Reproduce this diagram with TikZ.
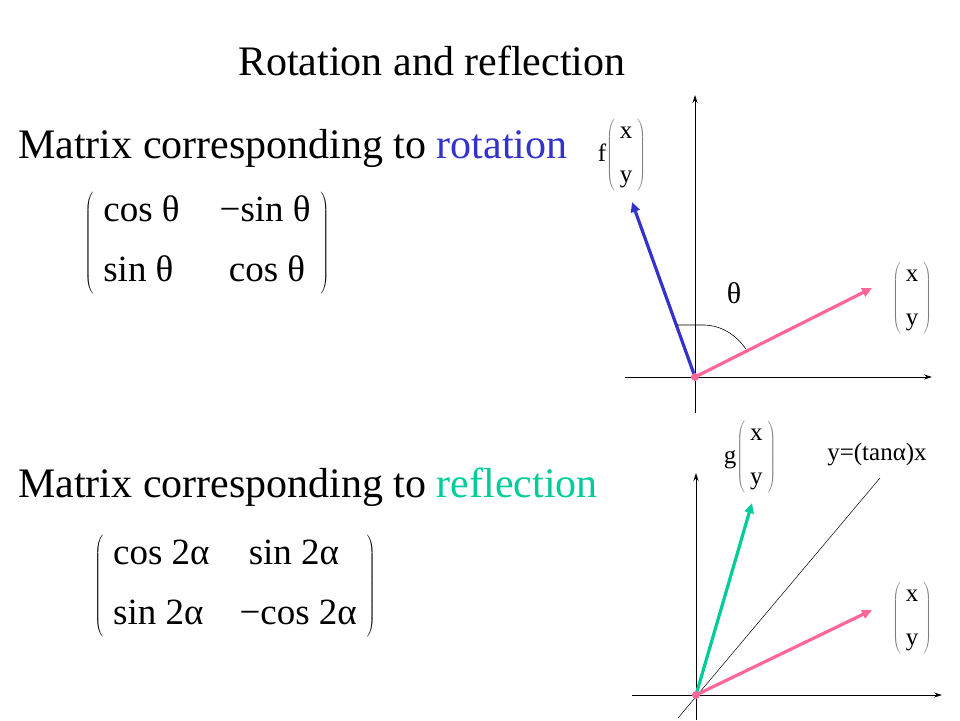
\documentclass[tikz,border=0pt]{standalone}
\usepackage{fontspec}
\setmainfont{Liberation Serif}
\usetikzlibrary{arrows.meta}
\begin{document}
\begin{tikzpicture}[x=1pt,y=-1pt,
  ax/.style={-{Stealth[length=8pt,width=5pt]},line width=0.8pt},
  vec/.style={-{Triangle[length=10pt,width=9pt]},line width=3.2pt},
  txt/.style={inner sep=0pt,anchor=base west}]
\useasboundingbox (0,0) rectangle (960,720);
\definecolor{rotblue}{RGB}{51,51,204}
\definecolor{refgreen}{RGB}{0,204,153}
\definecolor{vpink}{RGB}{255,102,153}
\newcommand{\vxy}[1][]{{\fontsize{25}{28}\selectfont #1$\color{gray}\left(\begin{array}{c}\color{black}\mbox{x}\\[16pt]\color{black}\mbox{y}\end{array}\right)$}}
\node[txt] (title) at (238,75) {\fontsize{42}{46}\selectfont Rotation and reflection};
\node[txt] (t1) at (18,158) {\fontsize{42}{46}\selectfont Matrix corresponding to \textcolor{rotblue}{rotation}};
\node[txt] (t2) at (18,497) {\fontsize{42}{46}\selectfont Matrix corresponding to \textcolor{refgreen}{reflection}};
\node[inner sep=0pt] (m1) at (207,243) {\fontsize{37}{42}\selectfont\arraycolsep=0pt $\left(\begin{array}{@{\hspace{10pt}}l@{\hspace{40pt}}l@{\hspace{10pt}}}\mbox{cos θ} & \mbox{−sin θ}\\[18pt]\mbox{sin θ} & \mbox{\ cos θ}\end{array}\right)$};
\node[inner sep=0pt] (m2) at (235,586) {\fontsize{37}{42}\selectfont\arraycolsep=0pt $\left(\begin{array}{@{\hspace{10pt}}l@{\hspace{30pt}}l@{\hspace{10pt}}}\mbox{cos 2α} & \mbox{\ sin 2α}\\[18pt]\mbox{sin 2α} & \mbox{−cos 2α}\end{array}\right)$};
% top diagram
\coordinate (o1) at (695,377);
\coordinate (ya1) at (695,413); \coordinate (yb1) at (695,95);
\coordinate (xa1) at (625,377); \coordinate (xb1) at (932,377);
\draw[ax] (ya1) -- (yb1);
\draw[ax] (xa1) -- (xb1);
\coordinate (b1) at (632,202); \coordinate (p1) at (872,288);
\draw[vec,rotblue] (o1) -- (b1);
\draw[vec,vpink] (o1) -- (p1);
\fill[vpink] (o1) circle (4);
\draw[line width=0.6pt] (677,325) -- (705,325) .. controls (725,326) and (738,338) .. (746,349);
\node (th) at (734,293) {\fontsize{30}{32}\selectfont θ};
\node (v1) at (912,298) {\vxy};
\node (f1) at (622,155) {\vxy[f]};
% bottom diagram
\coordinate (o2) at (696,695);
\draw[ax] (696,720) -- (696,473);
\draw[ax] (632,695) -- (942,695);
\coordinate (la) at (678,718); \coordinate (lb) at (880,478);
\draw[line width=0.5pt] (la) -- (lb);
\coordinate (g2) at (752,503); \coordinate (p2) at (872,610);
\draw[vec,refgreen] (o2) -- (g2);
\draw[vec,vpink] (o2) -- (p2);
\fill[vpink] (o2) circle (4);
\node (lab) at (877,455) {\fontsize{25}{28}\selectfont y=(tanα)x};
\node (gv) at (750,457) {\vxy[g]};
\node (v2) at (912,618) {\vxy};
\end{tikzpicture}
\end{document}
